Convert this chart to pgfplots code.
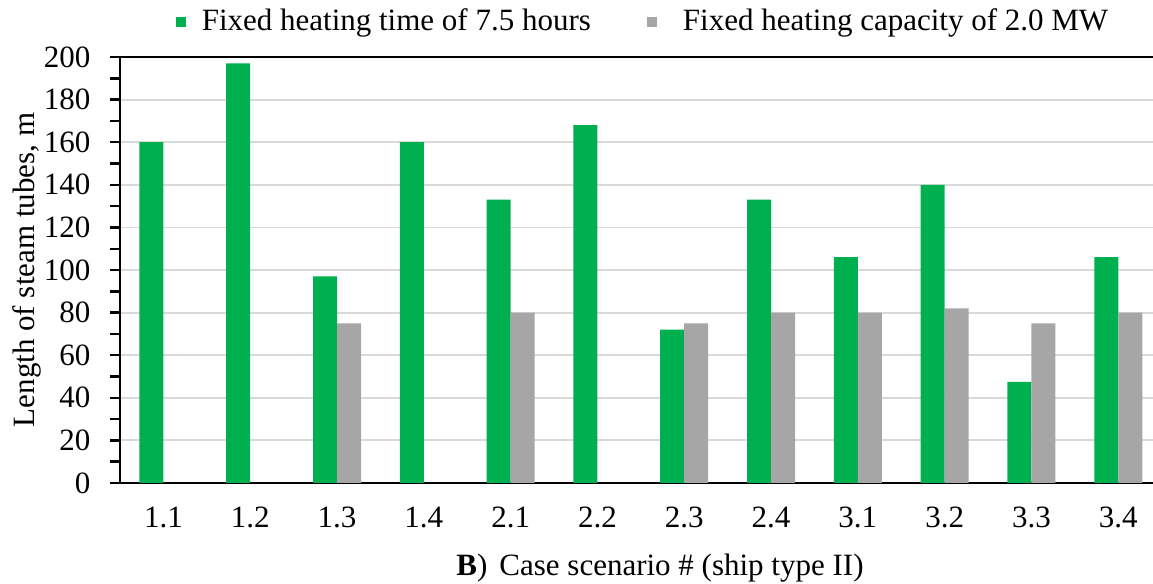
\documentclass[border=0pt]{standalone}
\usepackage{fontspec}
\setmainfont{Liberation Serif}
\usepackage{pgfplots}
\pgfplotsset{compat=1.18}
\definecolor{cgreen}{RGB}{0,176,80}
\definecolor{cgray}{RGB}{166,166,166}
\definecolor{cgrid}{RGB}{217,217,217}
\newcommand{\ff}{\fontsize{15.5}{18}\selectfont}
\begin{document}
\ff
\begin{tikzpicture}
\begin{axis}[
  scale only axis,
  width=516.5pt, height=213pt,
  xmin=-0.5, xmax=11.4, ymin=0, ymax=200,
  ybar=0pt, bar width=12pt,
  axis y line*=left,
  axis line style={black, line width=1.2pt},
  xtick={0,...,11},
  xticklabels={1.1,1.2,1.3,1.4,2.1,2.2,2.3,2.4,3.1,3.2,3.3,3.4},
  xtick style={draw=none},
  ytick={0,20,...,200},
  minor y tick num=1,
  tick align=outside,
  major tick length=5pt, minor tick length=5pt,
  ytick style={black, line width=1.2pt},
  ymajorgrids, grid style={cgrid, line width=0.9pt},
  /pgf/number format/assume math mode=true,
  tick label style={font=\ff},
  yticklabel style={xshift=-4.5pt},
  xticklabel style={anchor=base, yshift=-17pt},
  xlabel={\textbf{B})\hspace{6pt}Case scenario \# (ship type II)},
  xlabel style={at={(axis description cs:0,0)}, anchor=base, xshift=270pt, yshift=-46pt, font=\ff},
  ylabel={Length of steam tubes, m},
  ylabel style={at={([xshift=-46.5pt]axis description cs:0,0.5)}, anchor=center, font=\ff},
  legend style={at={(axis description cs:0,1)}, anchor=center, xshift=262pt, yshift=17.5pt,
    draw=none, fill=none, font=\ff, legend columns=2,
    /tikz/every odd column/.append style={column sep=0pt},
    /tikz/every even column/.append style={column sep=26pt}},
  clip=false,
]
\addplot[fill=cgreen, draw=none,
  legend image code/.code={\fill[cgreen] (0pt,-2.5pt) rectangle (5pt,2.5pt); \path (11pt,0pt);}] coordinates {
  (0,160) (1,197) (2,97) (3,160) (4,133) (5,168)
  (6,72) (7,133) (8,106) (9,140) (10,47.5) (11,106)};
\addplot[fill=cgray, draw=none,
  legend image code/.code={\fill[cgray] (0pt,-2.5pt) rectangle (5pt,2.5pt); \path (11pt,0pt);}] coordinates {
  (2,75) (4,80) (6,75) (7,80) (8,80) (9,82) (10,75) (11,80)};
\legend{Fixed heating time of 7.5 hours, \hspace{5pt}Fixed heating capacity of 2.0 MW}
\end{axis}
\pgfresetboundingbox
\path[use as bounding box] (-60pt,-50.5pt) rectangle (516.5pt,241.5pt);
\end{tikzpicture}
\end{document}
